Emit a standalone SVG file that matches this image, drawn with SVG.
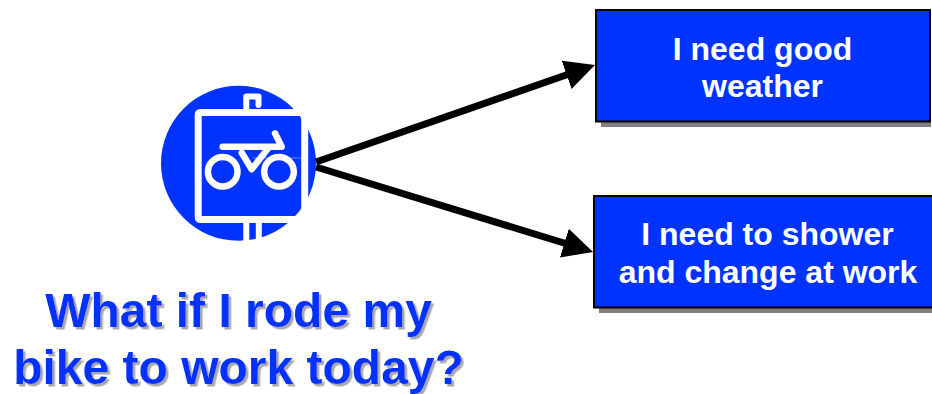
<svg xmlns="http://www.w3.org/2000/svg" width="932" height="394" viewBox="0 0 932 394">
<style>
.box{fill:#0033ff;stroke:#000;stroke-width:2}
.shadow{fill:#808080}
.lbl{font:bold 32px "Liberation Sans",Arial,sans-serif;fill:#fff;text-anchor:middle}
.title{font:bold 48px "Liberation Sans",Arial,sans-serif;text-anchor:middle;fill:#0033ff;filter:url(#soft)}
.w{fill:none;stroke:#fff;stroke-width:6.500;stroke-linecap:round;stroke-linejoin:round}
.conn{fill:none;stroke:#000;stroke-width:7}
</style>
<defs>
<marker id="arrow" markerUnits="userSpaceOnUse" markerWidth="36" markerHeight="32" refX="20" refY="16" orient="auto"><path d="M0,1 L30,16 L0,31 Z" fill="#000"/></marker>
<filter id="soft" x="-5%" y="-10%" width="110%" height="130%"><feDropShadow dx="2.500" dy="2.500" stdDeviation="0.600" flood-color="#a8a8a8"/></filter>
</defs>
<rect width="932" height="394" fill="#fff"/>
<g id="bike-icon">
<circle cx="238.5" cy="163.3" r="77.5" fill="#0033ff"/>
<rect x="198.200" y="112.500" width="106.500" height="107" rx="2" fill="none" stroke="#fff" stroke-width="7"/>
<path d="M246.300,109 V96.500 H258.500 V105" fill="none" stroke="#fff" stroke-width="6" stroke-linecap="round" stroke-linejoin="round"/>
<path d="M246.300,223 V241 M258.800,223 V240" fill="none" stroke="#fff" stroke-width="6"/>
<path d="M253,158 H301" stroke="#6688ff" stroke-width="1" fill="none"/>
<circle class="w" cx="222.700" cy="171.700" r="14.800"/>
<circle class="w" cx="279" cy="171.700" r="14.800"/>
<path class="w" d="M222.700,146.700 H281.700 L275,133.300"/>
<path class="w" d="M241.700,152.700 L251.700,169.300 L268.300,148"/>
</g>
<g id="connectors">
<path class="conn" marker-end="url(#arrow)" d="M316,162 L585.500,68.300"/>
<path class="conn" marker-end="url(#arrow)" d="M316,167 L583.500,249"/>
</g>
<g id="node-weather">
<rect class="shadow" x="601" y="15" width="330" height="112"/>
<rect class="box" x="596" y="10" width="334" height="111.500"/>
<text class="lbl" x="762.500" y="59.500">I need good</text>
<text class="lbl" x="762.500" y="97">weather</text>
</g>
<g id="node-shower">
<rect class="shadow" x="599" y="201" width="333" height="112"/>
<rect class="box" x="594" y="196" width="340" height="111.500"/>
<text class="lbl" x="767.500" y="245">I need to shower</text>
<text class="lbl" x="768" y="282.500">and change at work</text>
</g>
<g id="title">
<text class="title" x="238.500" y="327">What if I rode my</text>
<text class="title" x="238.500" y="383.500">bike to work today?</text>
</g>
</svg>
